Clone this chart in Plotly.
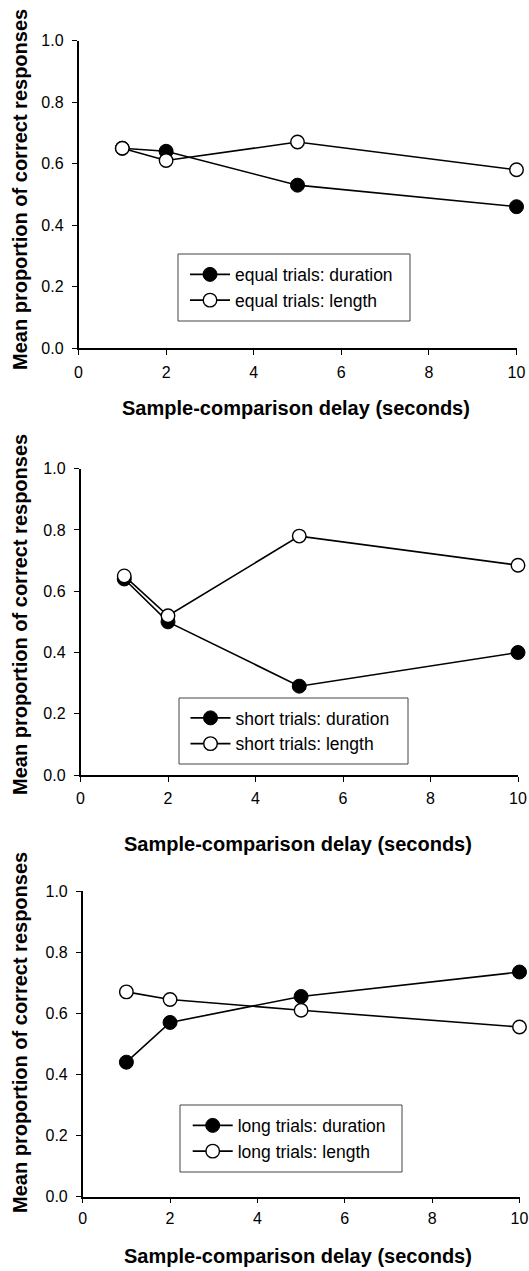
import plotly.graph_objects as go

W, H = 529, 1271

delay_s = [1, 2, 5, 10]

equal_duration = [0.65, 0.64, 0.53, 0.46]
equal_length = [0.65, 0.61, 0.67, 0.58]
short_duration = [0.64, 0.50, 0.29, 0.40]
short_length = [0.65, 0.52, 0.78, 0.685]
long_duration = [0.44, 0.57, 0.655, 0.735]
long_length = [0.67, 0.645, 0.61, 0.555]

panel_names = ["equal", "short", "long"]
duration_series = [equal_duration, short_duration, long_duration]
length_series = [equal_length, short_length, long_length]

x_ticks = [0, 2, 4, 6, 8, 10]
y_ticks = [0.0, 0.2, 0.4, 0.6, 0.8, 1.0]
x_title = "Sample-comparison delay (seconds)"
y_title = "Mean proportion of correct responses"

# geometry in screen pixels (left, right, top, bottom of plot area)
panels_px = [
    (78.5, 516.5, 40.5, 348.3),
    (80.5, 518.0, 468.7, 775.0),
    (82.7, 519.5, 891.0, 1196.7),
]
legend_box_px = [
    (178, 410, 254, 321),
    (179, 408, 698, 764),
    (180, 402, 1105, 1172),
]
legend_line_start_px = [190, 190.5, 192.7]
ytitle_center_px = [190, 615, 1033]
xtitle_px = [(296, 408), (298, 844), (298, 1256)]
xlabel_standoff = [4, 3, 1]


def px_x(v):
    return v / W


def px_y(v):
    return 1 - v / H


FONT = "Liberation Sans, Arial, sans-serif"

fig = go.Figure()
layout = dict(
    template="none",
    width=W, height=H,
    margin=dict(l=0, r=0, t=0, b=0, autoexpand=False),
    paper_bgcolor="white", plot_bgcolor="white",
    font=dict(family=FONT, color="black"),
    showlegend=True,
    annotations=[], shapes=[],
)

for i, name in enumerate(panel_names):
    l, r, t, b = panels_px[i]
    sfx = "" if i == 0 else str(i + 1)
    xa = "x" + sfx
    ya = "y" + sfx
    leg = "legend" if i == 0 else "legend" + str(i + 1)
    fig.add_trace(go.Scatter(
        x=delay_s, y=duration_series[i], mode="lines+markers",
        name=f"{name} trials: duration",
        line=dict(color="black", width=1.6),
        marker=dict(symbol="circle", size=14, color="black",
                    line=dict(color="black", width=1.0)),
        xaxis=xa, yaxis=ya, legend=leg, cliponaxis=False,
    ))
    fig.add_trace(go.Scatter(
        x=delay_s, y=length_series[i], mode="lines+markers",
        name=f"{name} trials: length",
        line=dict(color="black", width=1.6),
        marker=dict(symbol="circle", size=13.5, color="white",
                    line=dict(color="black", width=1.4)),
        xaxis=xa, yaxis=ya, legend=leg, cliponaxis=False,
    ))
    layout["xaxis" + sfx] = dict(
        domain=[px_x(l), px_x(r)], range=[0, 10], anchor=ya,
        tickvals=x_ticks, ticks="outside", ticklen=5, tickwidth=1,
        tickcolor="black", showline=True, linecolor="black", linewidth=1.5,
        showgrid=False, zeroline=False, tickfont=dict(size=16, family=FONT),
        ticklabelstandoff=xlabel_standoff[i], automargin=False,
    )
    layout["yaxis" + sfx] = dict(
        domain=[px_y(b), px_y(t)], range=[0, 1], anchor=xa,
        tickvals=y_ticks, tickformat=".1f", ticks="outside", ticklen=5,
        tickwidth=1, tickcolor="black", showline=True, linecolor="black",
        linewidth=1.5, showgrid=False, zeroline=False,
        tickfont=dict(size=16, family=FONT), automargin=False,
        ticklabelstandoff=5,
    )
    bl, br, bt, bb = legend_box_px[i]
    layout["shapes"].append(dict(
        type="rect", xref="paper", yref="paper",
        x0=px_x(bl), x1=px_x(br), y0=px_y(bb), y1=px_y(bt),
        line=dict(color="#444", width=1), fillcolor="rgba(0,0,0,0)",
    ))
    layout[leg] = dict(
        x=px_x(legend_line_start_px[i] - 5), y=px_y((bt + bb) / 2),
        xanchor="left", yanchor="middle",
        bgcolor="rgba(0,0,0,0)", borderwidth=0,
        font=dict(size=17.5, family=FONT, color="black"),
        tracegroupgap=0, itemclick=False, itemwidth=40,
    )
    layout["annotations"].append(dict(
        text=f"<b>{y_title}</b>", textangle=-90, xref="paper", yref="paper",
        x=px_x(20), y=px_y(ytitle_center_px[i]), xanchor="center", yanchor="middle",
        showarrow=False, font=dict(size=20, family=FONT, color="black"),
    ))
    xt, yt = xtitle_px[i]
    layout["annotations"].append(dict(
        text=f"<b>{x_title}</b>", xref="paper", yref="paper",
        x=px_x(xt), y=px_y(yt), xanchor="center", yanchor="middle",
        showarrow=False, font=dict(size=20, family=FONT, color="black"),
    ))

fig.update_layout(**layout)
# place the figure at the page's top-left corner (no default body margin)
fig.write_html(
    "out.html",
    config={"displayModeBar": False, "staticPlot": False},
    post_script="document.body.style.margin='0';document.body.style.overflow='hidden';",
)
